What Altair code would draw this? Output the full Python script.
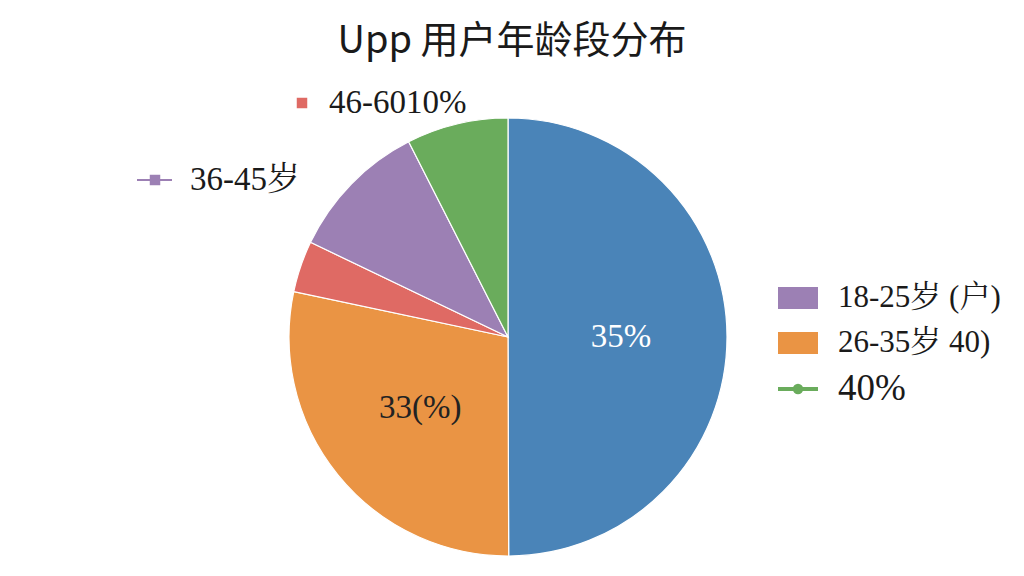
import altair as alt
import pandas as pd

# data
groups = ["18-25岁", "26-35岁", "46-60岁", "36-45岁", "其他"]
shares = [50.0, 28.4, 3.8, 10.4, 7.5]
slice_labels = ["35%", "33(%)", "", "", ""]
colors = ["#4a84b8", "#ea9444", "#df6a64", "#9c80b4", "#6aac5c"]
label_colors = ["#ffffff", "#222222", "#222222", "#222222", "#222222"]

title_text = "Upp 用户年龄段分布"
legend_labels = ["46-6010%", "36-45岁", "18-25岁 (户)", "26-35岁 40)", "40%"]

df = pd.DataFrame({
    "group": groups,
    "share": shares,
    "label": slice_labels,
    "lcolor": label_colors,
    "idx": list(range(len(groups))),
})

CX, CY, R = 500, 329, 219
SERIF = "'Liberation Serif', 'Noto Serif CJK SC', 'Noto Sans CJK SC', serif"

base = alt.Chart(df).encode(
    theta=alt.Theta("share:Q", stack=True),
    order=alt.Order("idx:Q"),
)

pie = base.mark_arc(stroke="white", strokeWidth=1.2, outerRadius=R).encode(
    color=alt.Color("group:N", scale=alt.Scale(domain=groups, range=colors), legend=None),
    x=alt.value(CX), y=alt.value(CY),
)

texts = base.mark_text(radius=113, font=SERIF, fontSize=33).encode(
    text="label:N",
    color=alt.Color("lcolor:N", scale=None),
    x=alt.value(CX), y=alt.value(CY),
)

one = pd.DataFrame({"a": [0]})


def txt(s, x, y, size, font=SERIF, align="left", weight="normal"):
    return alt.Chart(one).mark_text(
        text=s, font=font, fontSize=size, align=align, baseline="middle",
        color="#1a1a1a", fontWeight=weight,
    ).encode(x=alt.value(x), y=alt.value(y))


def rect(x, y, w, h, c):
    return alt.Chart(one).mark_rect(color=c).encode(
        x=alt.value(x), x2=alt.value(x + w), y=alt.value(y - h / 2), y2=alt.value(y + h / 2)
    )


def line(x1, x2, y, c, w=3):
    return alt.Chart(one).mark_rule(color=c, strokeWidth=w).encode(
        x=alt.value(x1), x2=alt.value(x2), y=alt.value(y)
    )


def point(x, y, c, shape, size):
    return alt.Chart(one).mark_point(shape=shape, filled=True, color=c, size=size, opacity=1).encode(
        x=alt.value(x), y=alt.value(y)
    )


title = txt(title_text, 504, 34, 38, font="'Noto Sans CJK SC', 'Noto Sans', sans-serif",
            align="center", weight="normal")

layers = [
    pie, texts, title,
    # top-left legend entries
    point(294, 95, colors[2], "square", 110),
    txt(legend_labels[0], 321, 95, 33),
    line(129, 164, 172, colors[3], 2),
    point(147, 172, colors[3], "square", 110),
    txt(legend_labels[1], 182, 172, 33),
    # right legend
    rect(770, 290, 40, 22, colors[3]),
    txt(legend_labels[2], 830, 290, 31),
    rect(770, 335, 40, 22, colors[1]),
    txt(legend_labels[3], 830, 335, 31),
    line(770, 810, 381, colors[4], 4),
    point(790, 381, colors[4], "circle", 110),
    txt(legend_labels[4], 830, 381, 37),
]

chart = alt.layer(*layers).properties(
    width=1008, height=560, padding=0,
    autosize=alt.AutoSizeParams(type="none"),
    background="#ffffff",
).configure_view(stroke=None)

chart.save("out.html", embed_options={"renderer": "svg", "actions": False})
